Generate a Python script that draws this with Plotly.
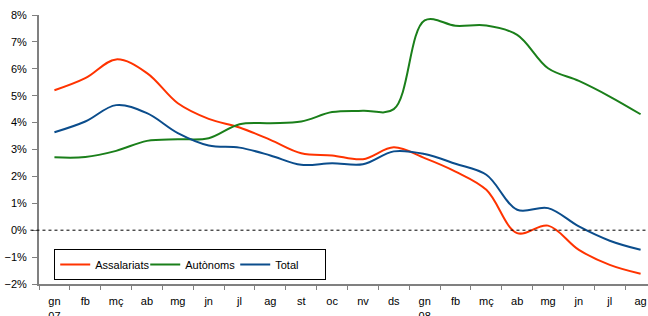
import plotly.graph_objects as go

months = ["gn 07", "fb 07", "mç 07", "ab 07", "mg 07", "jn 07", "jl 07", "ag 07", "st 07", "oc 07",
          "nv 07", "ds 07", "gn 08", "fb 08", "mç 08", "ab 08", "mg 08", "jn 08", "jl 08", "ag 08"]
tick_labels = ["gn<br>07", "fb", "mç", "ab", "mg", "jn", "jl", "ag", "st", "oc",
               "nv", "ds", "gn<br>08", "fb", "mç", "ab", "mg", "jn", "jl", "ag"]

assalariats = [5.2, 5.65, 6.35, 5.84, 4.72, 4.14, 3.82, 3.36, 2.86, 2.78,
               2.64, 3.08, 2.68, 2.18, 1.5, -0.11, 0.17, -0.73, -1.29, -1.62]
autonoms = [2.71, 2.72, 2.95, 3.32, 3.38, 3.42, 3.94, 3.98, 4.04, 4.39,
            4.44, 4.5, 7.8, 7.6, 7.61, 7.26, 6.02, 5.55, 4.97, 4.31]
total = [3.64, 4.04, 4.65, 4.35, 3.61, 3.15, 3.07, 2.78, 2.43, 2.49,
         2.45, 2.93, 2.83, 2.47, 2.06, 0.76, 0.82, 0.14, -0.39, -0.73]

series = [("Assalariats", assalariats, "#FF3300"),
          ("Autònoms", autonoms, "#1A7F1A"),
          ("Total", total, "#0B4D8C")]

fig = go.Figure()
for name, vals, col in series:
    fig.add_trace(go.Scatter(x=months, y=[v / 100 for v in vals], name=name, mode="lines",
                             line=dict(color=col, width=2, shape="spline", smoothing=1)))

fig.add_shape(type="line", xref="paper", yref="y", x0=-0.014, x1=1.0, y0=0, y1=0,
              line=dict(color="black", width=1, dash="dot"))

fig.update_layout(
    width=648, height=316,
    margin=dict(l=39, r=0, t=15, b=32, autoexpand=False),
    paper_bgcolor="white", plot_bgcolor="white",
    font=dict(family="Liberation Sans, Arial, sans-serif", size=11, color="black"),
    showlegend=True,
    legend=dict(orientation="h", x=0.025, y=0.13, xanchor="left", yanchor="top",
                bordercolor="black", borderwidth=1, bgcolor="white",
                font=dict(size=11), itemwidth=30, tracegroupgap=0,
                entrywidth=45, entrywidthmode="pixels"),
    xaxis=dict(type="category", categoryorder="array", categoryarray=months,
               tickvals=months, ticktext=tick_labels, tickson="boundaries",
               range=[-0.5, 19.24], showline=True, linecolor="#808080", linewidth=2,
               ticks="outside", ticklen=4, tickcolor="#808080", tickwidth=1,
               showgrid=False, zeroline=False, ticklabelstandoff=6, automargin=False),
    yaxis=dict(range=[-0.02, 0.08], dtick=0.01, tickformat=".0%",
               showline=True, linecolor="#808080", linewidth=2,
               ticks="outside", ticklen=5, tickcolor="#808080", tickwidth=1,
               showgrid=False, zeroline=False, ticklabelstandoff=3, automargin=False),
)

fig.write_html("out.html", config={"displayModeBar": False},
               post_script="document.body.style.margin='0px';document.body.style.overflow='hidden';")
